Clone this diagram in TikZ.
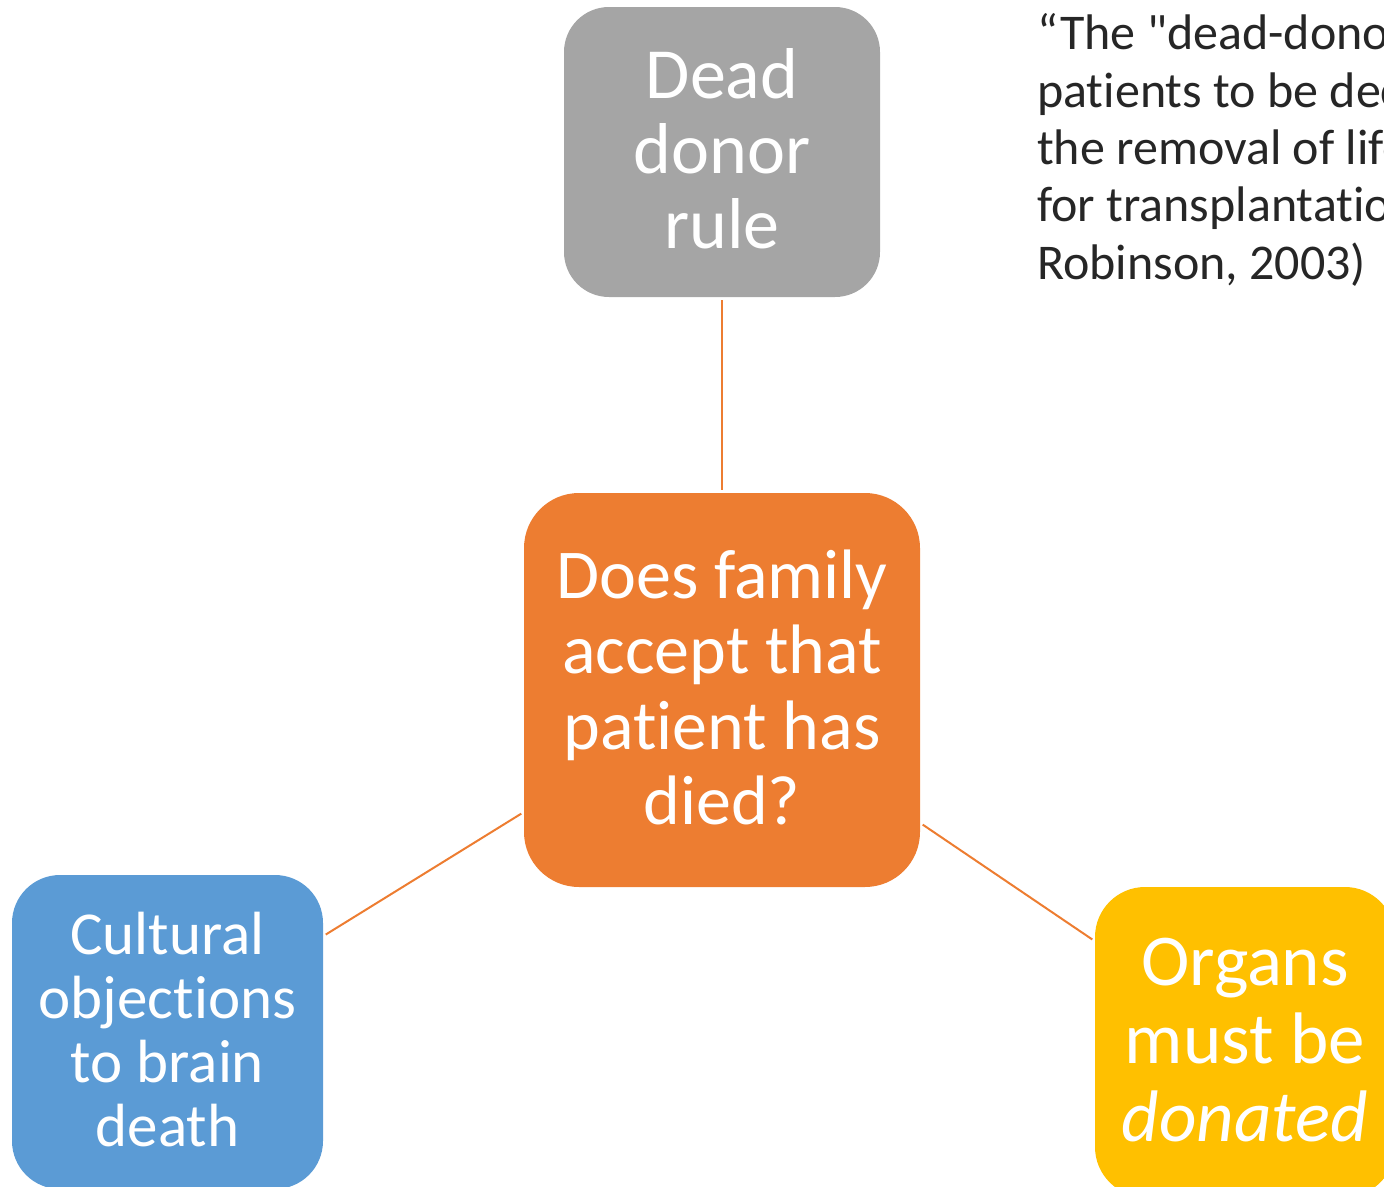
\documentclass[tikz,border=0pt]{standalone}
\usepackage{fontspec}
\setmainfont{Carlito}[Ligatures={NoCommon,TeXOff}]
\definecolor{boxgray}{HTML}{A5A5A5}
\definecolor{boxorange}{HTML}{ED7D31}
\definecolor{boxblue}{HTML}{5B9BD5}
\definecolor{boxgold}{HTML}{FFC000}
\definecolor{quotetext}{HTML}{262626}
\begin{document}
\begin{tikzpicture}[x=1pt,y=-1pt,
  topicbox/.style={rectangle, rounded corners=50pt, draw=none, text=white,
    align=center, inner sep=0pt},
  link/.style={draw=boxorange, line width=2pt, shorten <=3pt, shorten >=3pt}]
\useasboundingbox (0,0) rectangle (1384,1186);
\clip (0,0) rectangle (1384,1186);

% central question
\node[topicbox, fill=boxorange, minimum width=396pt, minimum height=394pt,
  rounded corners=55pt, font=\fontsize{70}{75.5}\selectfont, text depth=6pt]
  (center) at (722,690) {Does family\\accept that\\patient has\\died?};

% surrounding boxes
\node[topicbox, fill=boxgray, minimum width=316pt, minimum height=290pt,
  rounded corners=45pt, font=\fontsize{72}{75}\selectfont, text depth=8pt]
  (rule) at (722,152) {Dead\\donor\\rule};
\node[topicbox, fill=boxblue, minimum width=311pt, minimum height=314pt,
  rounded corners=48pt, font=\fontsize{61}{64}\selectfont, text depth=6pt]
  (culture) at (167.5,1032) {Cultural\\objections\\to brain\\death};
\node[topicbox, fill=boxgold, minimum width=300pt, minimum height=310pt,
  rounded corners=50pt, font=\fontsize{73}{78}\selectfont, text depth=4pt]
  (organs) at (1245,1042) {Organs\\must be\\\textit{donated}};

% connectors
\draw[link] (center) -- (rule);
\draw[link] (center) -- (culture);
\draw[link] (center) -- (organs);

% quotation (base anchor sits on the last line)
\node[anchor=base west, align=left, inner sep=0pt, text=quotetext,
  font=\fontsize{50}{57.3}\selectfont] (quote) at (1037,279)
  {“The "dead-donor rule" requires\\patients to be declared dead before\\the removal of life-sustaining organs\\for transplantation” (Truog and\\Robinson, 2003)};
\end{tikzpicture}
\end{document}
